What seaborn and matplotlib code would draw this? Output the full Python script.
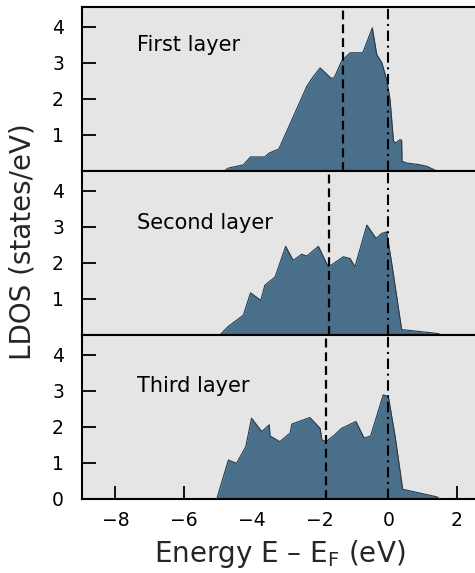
import matplotlib
matplotlib.use("Agg")
import matplotlib.pyplot as plt
import seaborn as sns
import pandas as pd

# Layer-resolved density of states (states/eV) vs energy relative to E_F (eV)
energy_first = [-4.82, -4.69, -4.25, -4.04, -3.62, -3.49, -3.21, -2.39, -2.23, -2.00,
                -1.69, -1.59, -1.37, -1.12, -0.75, -0.47, -0.34, -0.19, -0.05, 0.05,
                0.15, 0.22, 0.34, 0.39, 0.40, 0.54, 0.88, 1.13, 1.42]
ldos_first = [0.00, 0.08, 0.17, 0.39, 0.39, 0.50, 0.61, 2.35, 2.58, 2.86,
              2.58, 2.58, 3.05, 3.28, 3.28, 3.97, 3.23, 3.00, 2.54, 1.98,
              0.82, 0.78, 0.87, 0.85, 0.27, 0.22, 0.18, 0.13, 0.00]

energy_second = [-4.94, -4.69, -4.25, -4.04, -3.74, -3.62, -3.32, -3.01, -2.79, -2.54,
                 -2.39, -2.05, -1.76, -1.61, -1.32, -1.12, -0.98, -0.63, -0.36, -0.19,
                 -0.05, 0.10, 0.39, 1.47, 1.52]
ldos_second = [0.00, 0.24, 0.55, 1.17, 0.96, 1.38, 1.61, 2.46, 2.07, 2.24,
               2.19, 2.46, 1.89, 1.98, 2.17, 2.12, 1.89, 3.05, 2.68, 2.82,
               2.86, 1.98, 0.15, 0.04, 0.00]

energy_third = [-5.03, -4.69, -4.45, -4.18, -4.01, -3.71, -3.49, -3.47, -3.18, -2.88,
                -2.83, -2.30, -2.00, -1.95, -1.83, -1.61, -1.37, -0.95, -0.71, -0.52,
                -0.15, 0.00, 0.20, 0.42, 1.42, 1.52]
ldos_third = [0.00, 1.08, 0.99, 1.45, 2.24, 1.87, 2.06, 1.75, 1.59, 1.83,
              2.08, 2.26, 1.96, 1.64, 1.59, 1.75, 1.96, 2.15, 1.69, 1.75,
              2.89, 2.84, 1.73, 0.27, 0.06, 0.00]

layer_names = ["First layer", "Second layer", "Third layer"]
band_centers = [-1.32, -1.73, -1.83]   # dashed markers
fermi_level = [0.0, 0.0, 0.0]          # dash-dot markers

x_ticks = [-8, -6, -4, -2, 0, 2]
y_ticks_upper = [1, 2, 3, 4]
y_ticks_lower = [0, 1, 2, 3, 4]

sns.set_theme(style="white")
plt.rcParams["font.family"] = ["DejaVu Sans"]
plt.rcParams["axes.unicode_minus"] = True

FILL = "#4a6f8b"
EDGE = "#25394a"
BG = "#e5e5e5"

fig = plt.figure(figsize=(4.75, 5.73), dpi=100)
W, H = 475, 573
left = 82 / W
bottom = (H - 499) / H
ph = 164 / H

panels = [
    (energy_first, ldos_first),
    (energy_second, ldos_second),
    (energy_third, ldos_third),
]

for i, (energy, ldos) in enumerate(panels):
    y0 = bottom + (2 - i) * ph
    ax = fig.add_axes([left, y0, 1.0 - left, ph])
    ax.set_facecolor(BG)
    df = pd.DataFrame({"E": energy, "LDOS": ldos})
    ax.fill_between(df["E"], 0, df["LDOS"], color=FILL, lw=0, zorder=2)
    sns.lineplot(data=df, x="E", y="LDOS", ax=ax, color=EDGE, lw=0.8,
                 sort=False, estimator=None, zorder=3)
    ax.axvline(band_centers[i], color="black", lw=1.6,
               linestyle=(0, (4, 2.2)), zorder=4)
    ax.axvline(fermi_level[i], color="black", lw=1.5,
               linestyle=(0, (5, 2.2, 1, 2.2)), zorder=4)
    ax.set_xlim(-8.98, 2.54)
    ax.set_ylim(0, 4.55)
    ax.set_xlabel("")
    ax.set_ylabel("")
    ax.text(-7.37, [3.32, 2.95, 2.98][i], layer_names[i], fontsize=15,
            ha="left", va="baseline", color="black")
    for side in ["left", "top", "bottom"]:
        ax.spines[side].set_color("black")
        ax.spines[side].set_linewidth(1.5)
    ax.spines["right"].set_visible(False)
    ax.tick_params(axis="y", direction="in", length=10, width=1.3,
                   labelsize=13.5, pad=13, colors="black", left=True)
    if i < 2:
        ax.set_yticks(y_ticks_upper)
        ax.set_xticks(x_ticks)
        ax.tick_params(axis="x", bottom=False, labelbottom=False)
    else:
        ax.set_yticks(y_ticks_lower)
        ax.set_xticks(x_ticks)
        ax.tick_params(axis="x", direction="in", length=9.5, width=1.3,
                       labelsize=13.5, pad=9, colors="black", bottom=True)

fig.text(23 / W, 1 - 242 / H, "LDOS (states/eV)", rotation=90,
         ha="center", va="center", fontsize=20)
fig.text(279.5 / W, 1 - 554 / H, "Energy E \u2013 E$_\\mathregular{F}$ (eV)",
         ha="center", va="center", fontsize=20)

fig.savefig("out.png", dpi=100, facecolor="white")
